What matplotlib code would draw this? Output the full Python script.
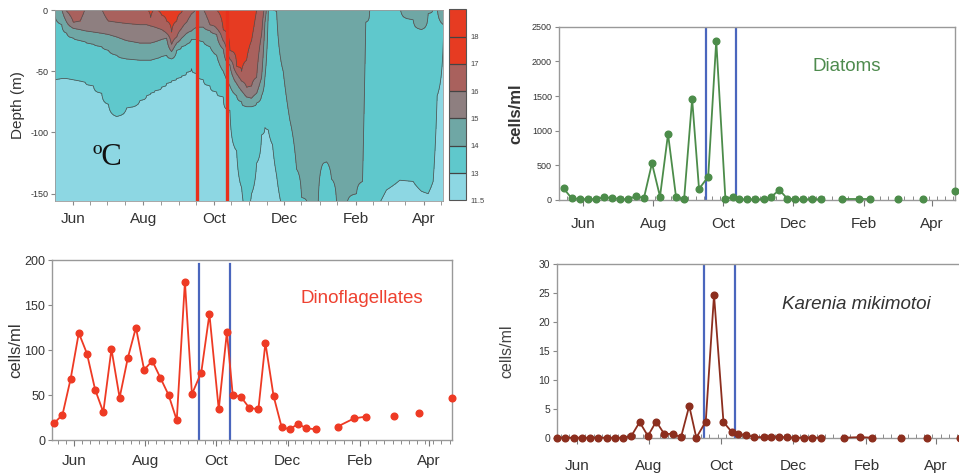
import numpy as np
import matplotlib
matplotlib.use('Agg')
import matplotlib.pyplot as plt

plt.rcParams['font.family'] = ['Liberation Sans', 'DejaVu Sans']
plt.rcParams['axes.unicode_minus'] = False

# ---- sampling (days after 1 June) and counts ----
sample_days = [-17, -10, -3, 4, 11, 18, 25, 32, 39, 46, 53, 60, 67, 74, 81, 88, 95, 101,
               109, 116, 124, 131, 136, 143, 150, 158, 164, 171, 178, 185, 192, 199, 207,
               226, 240, 250, 274, 296, 324]
runs = [33, 3, 1, 1, 1]   # consecutive samples joined by a line

diatoms = [168, 24, 14, 10, 14, 38, 29, 14, 10, 53, 29, 529, 48, 952, 38, 10, 1457, 159,
           337, 2298, 10, 48, 10, 10, 10, 10, 48, 144, 19, 10, 10, 10, 10, 10, 10, 10, 10,
           10, 130]
dinos = [19, 28, 68, 119, 96, 56, 31, 101, 47, 91, 125, 78, 88, 69, 50, 22, 176, 51, 75,
         140, 34, 120, 50, 48, 36, 34, 108, 49, 14, 12, 18, 13, 12, 15, 24, 26, 27, 30, 47]
karenia = [0, 0, 0, 0, 0, 0, 0, 0, 0, 0.3, 2.7, 0.3, 2.8, 0.6, 0.7, 0.05, 5.5, 0, 2.8, 24.7,
           2.7, 1.0, 0.6, 0.5, 0.1, 0.1, 0.2, 0.1, 0.1, 0, 0, 0, 0, 0, 0.1, 0, 0, 0, 0]

event_days = [107.5, 133.5]

# ---- temperature section: depth (m) of each isotherm per profile (5 = absent, above surface) ----
hm_days = [-16, -9.5, -5.2, 0.6, 6.3, 10.7, 17.9, 25.1, 30.9, 38.1, 46.7, 58.2, 64, 67.5,
           71.2, 77, 81.3, 85.6, 90, 94.3, 98.6, 102.9, 107.3, 113, 118.8, 124.6, 130.3,
           136.1, 141.9, 146.2, 150.5, 154.8, 159.2, 163.5, 166.4, 169.3, 173, 176.5, 182.2,
           188, 193.8, 198.1, 203.9, 212.5, 216.3, 219.7, 224, 228.4, 237, 245.7, 250.9,
           253.7, 257.2, 264.4, 271.6, 283.2, 294.7, 301.9, 307.7, 312, 315.5, 321]
iso13 = [-57, -56, -56, -57, -58, -59, -62, -68, -77, -87, -80, -74, -70, -68, -66, -63, -60,
         -58, -56, -54, -51, -48, -52, -57, -62, -67, -71, -82, -115, -145, -170, -150, -125,
         -102, -96, -98, -110, -135, -165, -170, -170, -170, -170, -170, -170, -170, -170,
         -170, -170, -170, -170, -170, -170, -160, -147, -139, -140, -148, -150, -140, -70, -20]
iso14 = [-2, -12, -19, -23, -25, -26, -28, -30, -33, -37, -40, -41, -41, -41, -40, -38, -37,
         -40, -33, -30, -28, -24, -24, -26, -30, -37, -50, -62, -70, -75, -79, -79, -76, -70,
         -55, 1, 3, -1, -50, -90, -130, -153, -165, -158, -126, -124, -138, -158, -162, -150,
         -140, -10, 3, 5, 5, 5, -8, -16, -3, 5, 2, -12]
iso15 = [5, 0.5, -10, -15, -16, -17, -18, -19, -20, -22, -25, -27, -27, -27, -26, -24, -23,
         -34, -27, -23, -19, -17, -14, -14, -17, -20, -32, -45, -60, -66, -71, -72, -68, -55,
         -10, 5, 5, 5, 5, 5, 5, 5, 5, 5, 5, 5, 5, 5, 5, 5, 5, 5, 5, 5, 5, 5, 5, 5, 5, 5, 5, 5]
iso16 = [5, 5, -1, -10, -9, 1, 5, 1, -9, -10, -11, -12, -12, -13, -14, -16, -19, -28, -22,
         -15, -10, -3, 2, 1, -12, -15, -25, -40, -52, -58, -63, -62, -55, -20, 5, 5, 5, 5, 5,
         5, 5, 5, 5, 5, 5, 5, 5, 5, 5, 5, 5, 5, 5, 5, 5, 5, 5, 5, 5, 5, 5, 5]
iso17 = [5, 5, 5, 5, 5, 5, 5, 5, 5, 5, 5, 5, 1, -6, 1, -4, -9, -18, -9, -2, 5, 5, 5, 5, 5, 0,
         -16, -33, -46, -50, -41, -25, 0, 5, 5, 5, 5, 5, 5, 5, 5, 5, 5, 5, 5, 5, 5, 5, 5, 5, 5,
         5, 5, 5, 5, 5, 5, 5, 5, 5, 5, 5]

temp_levels = [11.5, 13, 14, 15, 16, 17, 18, 19]
band_colors = ['#8dd7e3', '#5fc8cc', '#6fa7a5', '#8e7f80', '#a9615d', '#e63b22', '#e63b22']

month_starts = [-31, 0, 30, 61, 92, 122, 153, 183, 214, 245, 273, 304, 334]
month_labels = ['Jun', 'Aug', 'Oct', 'Dec', 'Feb', 'Apr']
label_days = month_starts[1:12:2]

fig = plt.figure(figsize=(9.59, 4.74), dpi=100)

# ---------------- temperature panel ----------------
ax_t = fig.add_axes([0.0574, 0.5759, 0.4046, 0.4030])
cax = fig.add_axes([0.4682, 0.5774, 0.0177, 0.4030])

depth_grid = np.linspace(0, -157, 158)
temp = np.zeros((len(depth_grid), len(hm_days)))
for j in range(len(hm_days)):
    xp = [-400, iso13[j], iso14[j], iso15[j], iso16[j], iso17[j], 60]
    fp = [11.5, 13, 14, 15, 16, 17, 18.6]
    temp[:, j] = np.interp(depth_grid, xp, fp)

cs = ax_t.contourf(hm_days, depth_grid, temp, levels=temp_levels, colors=band_colors)
ax_t.contour(hm_days, depth_grid, temp, levels=temp_levels[1:6], colors='#505050',
             linewidths=0.55)
for d in event_days:
    ax_t.axvline(d, color='#e8301c', lw=2.4)
ax_t.set_yticks([0, -50, -100, -150])
ax_t.set_xticks(label_days)
ax_t.set_xticklabels(month_labels)
half_months = [m + 15 for m in month_starts] + month_starts
ax_t.set_xticks([m for m in half_months if m not in label_days], minor=True)
ax_t.set_xlim(-15.3, 320.6)
ax_t.set_ylim(-156, 0)
ax_t.tick_params(axis='x', which='both', length=3, color='#888888', labelsize=11,
                 labelcolor='#333333', pad=5)
ax_t.tick_params(axis='y', length=3, color='#888888', labelsize=6.5, labelcolor='#333333',
                 pad=2)
ax_t.set_ylabel('Depth (m)', fontsize=11, color='#333333')
ax_t.yaxis.set_label_coords(-0.077, 0.5)
for s in ax_t.spines.values():
    s.set_color('#999999')
    s.set_linewidth(0.6)
ax_t.text(0.134, 0.23, 'ºC', transform=ax_t.transAxes, ha='center', va='center',
          fontsize=22, family='Liberation Serif', color='#111111')

cbar = fig.colorbar(cs, cax=cax, ticks=[11.5, 13, 14, 15, 16, 17, 18], drawedges=True)
cbar.ax.set_yticklabels(['11.5', '13', '14', '15', '16', '17', '18'])
cbar.ax.tick_params(length=0, labelsize=5.5, labelcolor='#444444', pad=3)
cbar.outline.set_edgecolor('#555555')
cbar.dividers.set_color('#444444')
cbar.dividers.set_linewidth(0.9)

# ---------------- count panels ----------------
def count_panel(ax, values, color, xlim, ylim, yticks, ytick_size, line_top, inward_minor,
                label_pad):
    start = 0
    for n in runs:
        ax.plot(sample_days[start:start + n], values[start:start + n], '-o', color=color,
                lw=1.3, ms=4.8, clip_on=False, zorder=3)
        start += n
    for d in event_days:
        ax.axvline(d, ymin=0, ymax=line_top, color='#4a66bd', lw=1.6, zorder=2)
    ax.set_yticks(yticks)
    ax.set_xticks(label_days)
    ax.set_xticklabels(month_labels)
    ax.set_xticks([w for w in range(-28, 330, 7)], minor=True)
    ax.set_xlim(*xlim)
    ax.set_ylim(*ylim)
    for s in ax.spines.values():
        s.set_color('#999999')
        s.set_linewidth(1.0)
    ax.tick_params(axis='y', length=3, color='#888888', labelsize=ytick_size,
                   labelcolor='#333333', pad=2)
    ax.tick_params(axis='x', which='major', length=4, color='#777777', labelsize=11,
                   labelcolor='#333333', pad=label_pad)
    ax.tick_params(axis='x', which='minor', length=3, color='#777777',
                   direction='in' if inward_minor else 'out')


ax_d = fig.add_axes([0.5829, 0.5781, 0.4129, 0.3656])
count_panel(ax_d, diatoms, '#4c8c4a', (-21, 324), (0, 2500), range(0, 2501, 500), 6.5, 1.0,
            True, 8)
ax_d.set_ylabel('cells/ml', fontsize=12, fontweight='bold', color='#333333')
ax_d.yaxis.set_label_coords(-0.091, 0.5)
ax_d.text(0.7265, 0.769, 'Diatoms', transform=ax_d.transAxes, ha='center', va='center',
          fontsize=13.5, color='#4e8b4e')

ax_f = fig.add_axes([0.0542, 0.0717, 0.4171, 0.3797])
count_panel(ax_f, dinos, '#ee3a24', (-19, 324), (0, 200), range(0, 201, 50), 9, 0.98, False,
            6)
ax_f.set_ylabel('cells/ml', fontsize=12, color='#333333')
ax_f.yaxis.set_label_coords(-0.0725, 0.5)
ax_f.text(0.774, 0.787, 'Dinoflagellates', transform=ax_f.transAxes, ha='center',
          va='center', fontsize=13.5, color='#ee4130')

ax_k = fig.add_axes([0.5808, 0.0766, 0.4223, 0.3658])
count_panel(ax_k, karenia, '#8c2e1e', (-17, 326), (0, 30), range(0, 31, 5), 7.5, 1.0, True,
            11)
ax_k.set_ylabel('cells/ml', fontsize=11.5, color='#444444')
ax_k.yaxis.set_label_coords(-0.106, 0.5)
ax_k.text(0.74, 0.771, 'Karenia mikimotoi', transform=ax_k.transAxes, ha='center',
          va='center', fontsize=13.5, style='italic', color='#333333')

fig.savefig('out.png', dpi=100)
